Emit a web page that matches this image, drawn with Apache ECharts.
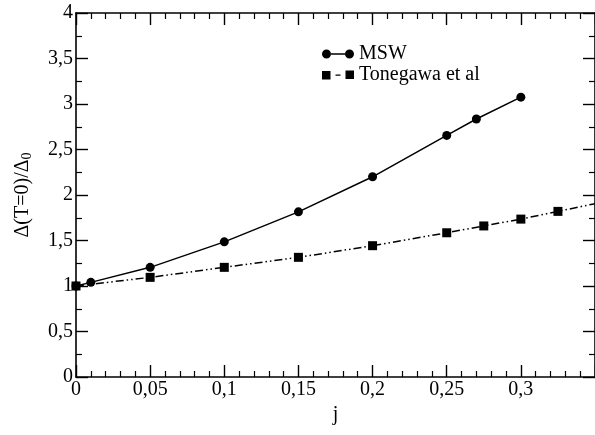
<!DOCTYPE html>
<html>
<head>
<meta charset="utf-8">
<title>Δ(T=0)/Δ0 vs j</title>
<script src="https://cdn.jsdelivr.net/npm/echarts@6/dist/echarts.min.js"></script>
<style>
  html, body { margin: 0; padding: 0; background: #fff; }
  #chart { width: 595px; height: 435px; }
</style>
</head>
<body>
<div id="chart"></div>
<script>
// MSW calculation
var jMSW = [0, 0.01, 0.05, 0.1, 0.15, 0.2, 0.25, 0.27, 0.3];
var gapMSW = [1.0, 1.04, 1.205, 1.485, 1.815, 2.2, 2.655, 2.835, 3.075];

// Tonegawa et al (last point lies past the right edge of the frame)
var jTonegawa = [0, 0.05, 0.1, 0.15, 0.2, 0.25, 0.275, 0.3, 0.325, 0.375];
var gapTonegawa = [1.0, 1.095, 1.205, 1.315, 1.443, 1.585, 1.66, 1.735, 1.82, 1.99];

// Axis ranges and tick steps
var xRange = [0, 0.35];
var xStep = 0.05;
var yRange = [0, 4];
var yStep = 0.5;

var seriesNames = ['MSW', 'Tonegawa et al'];

var FONT = '"Liberation Serif", "DejaVu Serif", serif';

function pairs(xs, ys) {
  return xs.map(function (x, i) { return [x, ys[i]]; });
}

// decimal comma tick labels
function commaLabel(v) {
  return String(parseFloat(v.toFixed(4))).replace('.', ',');
}

var ICON_MSW = 'path://M0,4.5 A4.5,4.5 0 1,1 9,4.5 A4.5,4.5 0 1,1 0,4.5 Z ' +
  'M9,3.8 L23,3.8 L23,5.2 L9,5.2 Z ' +
  'M23,4.5 A4.5,4.5 0 1,1 32,4.5 A4.5,4.5 0 1,1 23,4.5 Z';
var ICON_TONE = 'path://M0,0.5 L8.5,0.5 L8.5,9 L0,9 Z ' +
  'M13.5,3.9 L18.5,3.9 L18.5,5.3 L13.5,5.3 Z ' +
  'M23.5,0 L32,0 L32,8.5 L23.5,8.5 Z';

var tickCommon = {
  axisLine: { show: true, onZero: false, lineStyle: { color: '#000', width: 1.6 } },
  axisTick: { show: true, inside: true, length: 12, lineStyle: { color: '#000', width: 1.4 } },
  minorTick: { show: true, length: 6, lineStyle: { color: '#000', width: 1.2 } },
  splitLine: { show: false },
  minorSplitLine: { show: false }
};

function axis(extra) {
  return Object.assign({}, JSON.parse(JSON.stringify(tickCommon)), extra);
}

var chart = echarts.init(document.getElementById('chart'), null, { renderer: 'canvas' });

chart.setOption({
  animation: false,
  backgroundColor: '#fff',
  textStyle: { fontFamily: FONT, color: '#000' },
  grid: { left: 76, top: 13, width: 521.5, height: 364, containLabel: false },
  legend: {
    orient: 'vertical',
    left: 317,
    top: 39,
    itemGap: 1,
    itemWidth: 32,
    itemHeight: 9,
    textStyle: { fontFamily: FONT, fontSize: 20, color: '#000' },
    data: [
      { name: seriesNames[0], icon: ICON_MSW },
      { name: seriesNames[1], icon: ICON_TONE }
    ]
  },
  xAxis: [
    axis({
      type: 'value', position: 'bottom',
      min: xRange[0], max: xRange[1], interval: xStep,
      minorTick: { show: true, splitNumber: 5, length: 6, lineStyle: { color: '#000', width: 1.2 } },
      name: 'j', nameLocation: 'middle', nameGap: 25,
      nameTextStyle: { fontFamily: FONT, fontSize: 20, color: '#000' },
      axisLabel: {
        show: true, margin: 3, showMaxLabel: false,
        fontFamily: FONT, fontSize: 20, color: '#000',
        formatter: commaLabel
      }
    }),
    axis({
      type: 'value', position: 'top',
      min: xRange[0], max: xRange[1], interval: xStep,
      minorTick: { show: true, splitNumber: 5, length: 6, lineStyle: { color: '#000', width: 1.2 } },
      axisLabel: { show: false }
    })
  ],
  yAxis: [
    axis({
      type: 'value', position: 'left',
      min: yRange[0], max: yRange[1], interval: yStep,
      minorTick: { show: true, splitNumber: 2, length: 6, lineStyle: { color: '#000', width: 1.2 } },
      name: '{a|Δ(T=0)/Δ}{b|0}', nameLocation: 'middle', nameGap: 42,
      nameTextStyle: {
        fontFamily: FONT, fontSize: 20, color: '#000',
        rich: {
          a: { fontFamily: FONT, fontSize: 20, color: '#000', lineHeight: 22 },
          b: { fontFamily: FONT, fontSize: 14, color: '#000', verticalAlign: 'bottom', lineHeight: 6 }
        }
      },
      axisLabel: {
        show: true, margin: 3,
        fontFamily: FONT, fontSize: 20, color: '#000',
        formatter: commaLabel
      }
    }),
    axis({
      type: 'value', position: 'right',
      min: yRange[0], max: yRange[1], interval: yStep,
      minorTick: { show: true, splitNumber: 2, length: 6, lineStyle: { color: '#000', width: 1.2 } },
      axisLabel: { show: false }
    })
  ],
  series: [
    {
      name: seriesNames[0],
      type: 'line',
      xAxisIndex: 0, yAxisIndex: 0,
      data: pairs(jMSW, gapMSW),
      symbol: 'circle', symbolSize: 9,
      clip: true,
      itemStyle: { color: '#000' },
      lineStyle: { color: '#000', width: 1.5, type: 'solid' },
      z: 3
    },
    {
      name: seriesNames[1],
      type: 'line',
      xAxisIndex: 0, yAxisIndex: 0,
      data: pairs(jTonegawa, gapTonegawa),
      symbol: 'rect', symbolSize: 9,
      clip: true,
      itemStyle: { color: '#000' },
      lineStyle: { color: '#000', width: 1.5, type: [8, 3, 1.5, 3, 1.5, 3] },
      z: 4
    }
  ]
});
</script>
</body>
</html>
